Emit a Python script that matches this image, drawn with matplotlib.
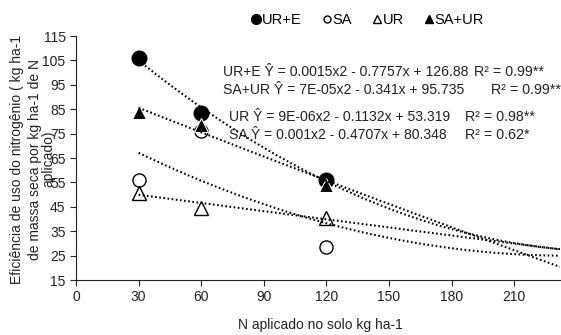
import numpy as np
import matplotlib
matplotlib.use('Agg')
import matplotlib.pyplot as plt
from matplotlib.lines import Line2D

plt.rcParams['font.family'] = ['Liberation Sans', 'DejaVu Sans']

# doses of N (kg ha-1)
doses = [30, 60, 120]

# observed efficiency values per treatment
ure_vals = [106, 83.5, 56]      # UR+E
sa_vals = [56, 76, 28.5]        # SA
ur_vals = [50.5, 44.5, 40.5]    # UR
saur_vals = [84, 78.5, 54]      # SA+UR

# fitted quadratic coefficients (a, b, c) from the chart's equations
ure_coef = [0.0015, -0.7757, 126.88]
saur_coef = [7e-05, -0.341, 95.735]
ur_coef = [9e-06, -0.1132, 53.319]
sa_coef = [0.001, -0.4707, 80.348]

eq_texts = [
    'UR+E Ŷ = 0.0015x2 - 0.7757x + 126.88',
    'SA+UR Ŷ = 7E-05x2 - 0.341x + 95.735',
    'UR Ŷ = 9E-06x2 - 0.1132x + 53.319',
    'SA Ŷ = 0.001x2 - 0.4707x + 80.348',
]
r2_texts = ['R² = 0.99**', 'R² = 0.99**', 'R² = 0.98**', 'R² = 0.62*']

W, H = 561, 335
fig = plt.figure(figsize=(W / 100, H / 100), dpi=100)
ax = fig.add_axes([76 / W, 1 - 280 / H, 484 / W, 244 / H])

ms = 10.5
ax.plot(doses, sa_vals, 'o', ms=ms * 0.9, mfc='white', mec='black', mew=1.0, ls='none', zorder=3)
ax.plot(doses, ur_vals, '^', ms=ms, mfc='white', mec='black', mew=1.0, ls='none', zorder=3)
ax.plot(doses, ure_vals, 'o', ms=ms, mfc='black', mec='black', mew=1.0, ls='none', zorder=4)
ax.plot(doses, saur_vals, '^', ms=ms, mfc='black', mec='white', mew=0.8, ls='none', zorder=5)

xx = np.linspace(30, 232, 200)
for coef in (ure_coef, saur_coef, ur_coef, sa_coef):
    ax.plot(xx, np.polyval(coef, xx), color='black', lw=1.5,
            ls=(0, (0.8, 1.2)), zorder=6)

ax.set_xlim(0, 232)
ax.set_ylim(15, 115)
ax.set_xticks(range(0, 211, 30))
ax.set_yticks(range(15, 116, 10))
ax.tick_params(labelsize=10, length=4, width=0.8, colors='#222222')
for s in ('top', 'right'):
    ax.spines[s].set_visible(False)
for s in ('left', 'bottom'):
    ax.spines[s].set_linewidth(0.8)
    ax.spines[s].set_color('#222222')

# y label, three lines as in the source
ylab = ['Eficiência de uso do nitrogênio ( kg ha-1',
        'de massa seca por kg ha-1 de N',
        'aplicado)']
for xpx, t in zip([17, 35, 48], ylab):
    fig.text(xpx / W, 1 - 159 / H, t, rotation=90, ha='center', va='center',
             fontsize=10, color='#222222')

fig.text(320 / W, 1 - 325 / H, 'N aplicado no solo kg ha-1', ha='center',
         va='center', fontsize=10, color='#222222')

eq_pos = [(223, 72), (223, 90), (229, 117), (229, 135)]
r2_x = [474, 491, 465, 465]
for (xpx, ypx), rx, t, r in zip(eq_pos, r2_x, eq_texts, r2_texts):
    fig.text(xpx / W, 1 - ypx / H, t, ha='left', va='center', fontsize=10.1,
             color='#222222')
    fig.text(rx / W, 1 - ypx / H, r, ha='left', va='center', fontsize=10.3,
             color='#222222')

handles = [
    Line2D([0], [0], marker='o', color='none', mfc='black', mec='black', ms=7),
    Line2D([0], [0], marker='o', color='none', mfc='white', mec='black', ms=5),
    Line2D([0], [0], marker='^', color='none', mfc='white', mec='black', ms=6),
    Line2D([0], [0], marker='^', color='none', mfc='black', mec='black', ms=6),
]
fig.legend(handles, ['UR+E', 'SA', 'UR', 'SA+UR'], ncol=4, frameon=False,
           loc='center', bbox_to_anchor=(368 / W, 1 - 20 / H), fontsize=10.5,
           handlelength=0.6, handletextpad=0.1, columnspacing=1.4,
           borderpad=0)

fig.savefig('out.png', dpi=100)
